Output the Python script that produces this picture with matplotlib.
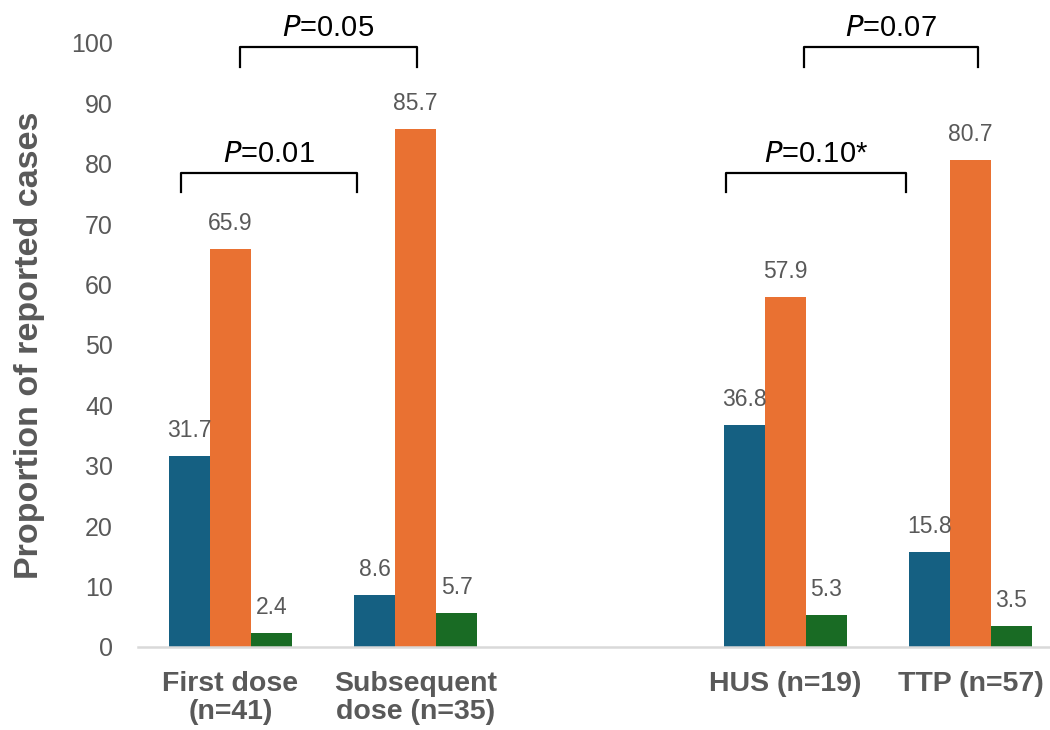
import matplotlib.pyplot as plt
import numpy as np

plt.rcParams['font.family'] = ['Liberation Sans', 'DejaVu Sans']

groups = ['First dose\n(n=41)', 'Subsequent\ndose (n=35)', 'HUS (n=19)', 'TTP (n=57)']
group_pos = [0, 1, 3, 4]   # slot 2 left empty as a gap
blue_vals = [31.7, 8.6, 36.8, 15.8]
orange_vals = [65.9, 85.7, 57.9, 80.7]
green_vals = [2.4, 5.7, 5.3, 3.5]

# brackets: (x left, x right, y top, leg drop, label)
brackets = [
    (-0.27, 0.686, 78.5, 3.2, 'P', '=0.01'),
    (0.05, 1.01, 99.3, 3.2, 'P', '=0.05'),
    (2.68, 3.65, 78.5, 3.2, 'P', '=0.10*'),
    (3.10, 4.04, 99.3, 3.2, 'P', '=0.07'),
]

blue = '#156082'
orange = '#E97132'
green = '#196B24'
grey = '#595959'

fig = plt.figure(figsize=(10.5, 7.3), dpi=100)
ax = fig.add_axes([138/1050, 83/730, 925/1050, 604/730])

w = 0.2216
x = np.array(group_pos)
for off, vals, col in [(-w, blue_vals, blue), (0, orange_vals, orange), (w, green_vals, green)]:
    bars = ax.bar(x + off, vals, width=w, color=col, zorder=2)
    for b, v in zip(bars, vals):
        ax.annotate(f'{v:.1f}', (b.get_x() + b.get_width()/2, v),
                    xytext=(0, 10), textcoords='offset points',
                    ha='center', va='bottom', fontsize=16.5, color=grey)

for x0, x1, yt, d, p, rest in brackets:
    ax.plot([x0, x0, x1, x1], [yt - d, yt, yt, yt - d], color='black',
            lw=1.6, clip_on=False, solid_joinstyle='round')
    ax.text((x0 + x1)/2, yt + 0.8, r'$\it{P}$' + rest, ha='center', va='bottom',
            fontsize=21, color='black')

ax.set_xlim(-0.5, 4.5)
ax.set_ylim(0, 100)
ax.set_yticks(range(0, 101, 10))
ax.set_xticks(group_pos)
ax.set_xticklabels(groups, fontsize=20.5, fontweight='bold', color=grey, linespacing=1.1)
ax.tick_params(axis='x', length=0, pad=17)
ax.tick_params(axis='y', length=0, pad=18, labelsize=18, labelcolor=grey)
ax.set_ylabel('Proportion of reported cases', fontsize=24.5, fontweight='bold', color=grey)
ax.yaxis.set_label_coords(-0.10, 0.5)

for s in ['top', 'right', 'left']:
    ax.spines[s].set_visible(False)
ax.spines['bottom'].set_color('#D9D9D9')
ax.spines['bottom'].set_linewidth(1.8)

fig.savefig('out.png', dpi=100)
